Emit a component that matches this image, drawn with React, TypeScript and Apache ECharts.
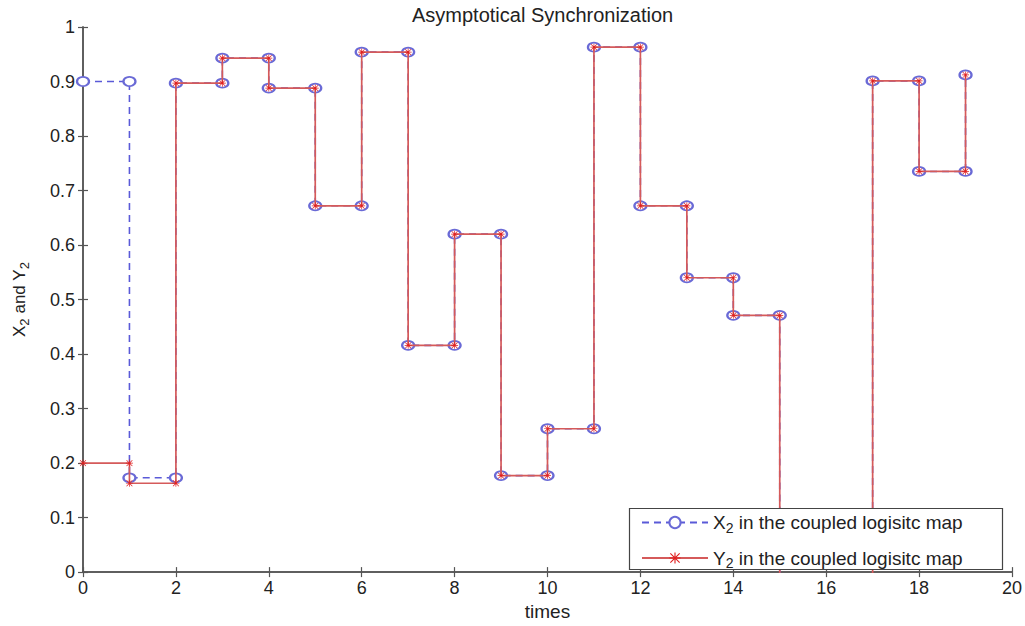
import React, { useEffect, useRef } from "react";
import * as echarts from "echarts";

const times = [0, 1, 2, 3, 4, 5, 6, 7, 8, 9, 10, 11, 12, 13, 14, 15, 16, 17, 18, 19];
const xValues = [0.900, 0.173, 0.897, 0.943, 0.888, 0.672, 0.954, 0.416, 0.620, 0.177, 0.263, 0.963, 0.672, 0.540, 0.471, -0.05, -0.05, 0.901, 0.735, 0.912];
const yValues = [0.200, 0.163, 0.897, 0.943, 0.888, 0.672, 0.954, 0.416, 0.620, 0.177, 0.263, 0.963, 0.672, 0.540, 0.471, -0.05, -0.05, 0.901, 0.735, 0.912];
const xTicks = [0, 2, 4, 6, 8, 10, 12, 14, 16, 18, 20];
const yTicks = [0, 0.1, 0.2, 0.3, 0.4, 0.5, 0.6, 0.7, 0.8, 0.9, 1];

const X_NAME = "X2 in the coupled logisitc map";
const Y_NAME = "Y2 in the coupled logisitc map";

function stairs(vals: number[]): number[][] {
  const pts: number[][] = [];
  for (let i = 0; i < vals.length; i++) {
    pts.push([times[i], vals[i]]);
    if (i < vals.length - 1) pts.push([times[i + 1], vals[i]]);
  }
  return pts;
}

const FONT = "Liberation Sans, Arial, Helvetica, sans-serif";
const ASTERISK =
  "path://M4.5 0H5.5V10H4.5Z M0 4.5H10V5.5H0Z M1.2 0.5L9.5 8.8L8.8 9.5L0.5 1.2Z M8.8 0.5L9.5 1.2L1.2 9.5L0.5 8.8Z";

export default function App() {
  const ref = useRef<HTMLDivElement>(null);
  useEffect(() => {
    if (!ref.current) return;
    const chart = echarts.init(ref.current, undefined, { renderer: "svg" });
    const axisLine = { show: true, lineStyle: { color: "#555", width: 1.5 } };
    const tick = { show: true, inside: true, length: 5, lineStyle: { color: "#555", width: 1.2 } };
    const legendRich = {
      n: { fontSize: 19, fontFamily: FONT, color: "#222", lineHeight: 24, verticalAlign: "middle" },
      s: { fontSize: 14, fontFamily: FONT, color: "#222", lineHeight: 14, verticalAlign: "bottom" },
    };
    const nameRich = {
      n: { fontSize: 17, fontFamily: FONT, color: "#222", lineHeight: 24, verticalAlign: "middle" },
      s: { fontSize: 13, fontFamily: FONT, color: "#222", lineHeight: 13, verticalAlign: "bottom" },
    };
    const option: any = {
      animation: false,
      backgroundColor: "#fff",
      title: {
        text: "Asymptotical Synchronization",
        left: 407,
        top: 0,
        textStyle: { fontSize: 20, fontWeight: "normal", color: "#222", fontFamily: FONT },
      },
      grid: { left: 83, right: 13, top: 27, bottom: 51, containLabel: false },
      xAxis: [
        {
          type: "value",
          min: xTicks[0],
          max: xTicks[xTicks.length - 1],
          interval: xTicks[1] - xTicks[0],
          position: "bottom",
          name: "times",
          nameLocation: "middle",
          nameGap: 24,
          nameTextStyle: { fontSize: 19, color: "#222", fontFamily: FONT },
          axisLine,
          axisTick: tick,
          splitLine: { show: false },
          axisLabel: { fontSize: 18, color: "#222", fontFamily: FONT, margin: 7 },
        },
        {
          type: "value",
          min: xTicks[0],
          max: xTicks[xTicks.length - 1],
          interval: xTicks[1] - xTicks[0],
          position: "top",
          axisLine,
          axisTick: tick,
          splitLine: { show: false },
          axisLabel: { show: false },
        },
      ],
      yAxis: [
        {
          type: "value",
          min: yTicks[0],
          max: yTicks[yTicks.length - 1],
          interval: 0.1,
          position: "left",
          name: "{n|X}{s|2}{n| and Y}{s|2}",
          nameLocation: "middle",
          nameGap: 52,
          nameTextStyle: { rich: nameRich },
          axisLine,
          axisTick: tick,
          splitLine: { show: false },
          axisLabel: { fontSize: 18, color: "#222", fontFamily: FONT, margin: 8 },
        },
        {
          type: "value",
          min: yTicks[0],
          max: yTicks[yTicks.length - 1],
          interval: 0.1,
          position: "right",
          axisLine,
          axisTick: tick,
          splitLine: { show: false },
          axisLabel: { show: false },
        },
      ],
      legend: {
        orient: "vertical",
        left: 641,
        top: 513,
        z: 10,
        padding: 0,
        itemWidth: 66,
        itemHeight: 14,
        itemGap: 14,
        data: [X_NAME, Y_NAME],
        formatter: (name: string) => {
          const head = name === X_NAME ? "X" : "Y";
          return `{n|${head}}{s|2}{n|${name.slice(2)}}`;
        },
        textStyle: { rich: legendRich },
      },
      graphic: [
        {
          type: "rect",
          z: 8,
          shape: { x: 629.5, y: 508.5, width: 373, height: 61 },
          style: { fill: "#fff", stroke: "#444", lineWidth: 1.2 },
        },
      ],
      series: [
        {
          name: X_NAME,
          type: "line",
          xAxisIndex: 0,
          yAxisIndex: 0,
          data: stairs(xValues),
          clip: true,
          symbol: "emptyCircle",
          symbolSize: [12, 9],
          showAllSymbol: true,
          lineStyle: { color: "#5a5ad8", width: 1.6, type: [7, 5] },
          itemStyle: { color: "#6a6ad6", borderColor: "#6a6ad6", borderWidth: 1.1 },
          z: 2,
        },
        {
          name: Y_NAME,
          type: "line",
          xAxisIndex: 0,
          yAxisIndex: 0,
          data: stairs(yValues),
          clip: true,
          symbol: ASTERISK,
          symbolSize: 7,
          showAllSymbol: true,
          lineStyle: { color: "#d55a5a", width: 1.7 },
          itemStyle: { color: "#e02020", borderWidth: 0 },
          z: 3,
        },
      ],
    };
    chart.setOption(option);
    return () => chart.dispose();
  }, []);
  return (
    <div
      ref={ref}
      style={{ position: "absolute", left: 0, top: 0, width: 1025, height: 626, background: "#fff" }}
    />
  );
}
